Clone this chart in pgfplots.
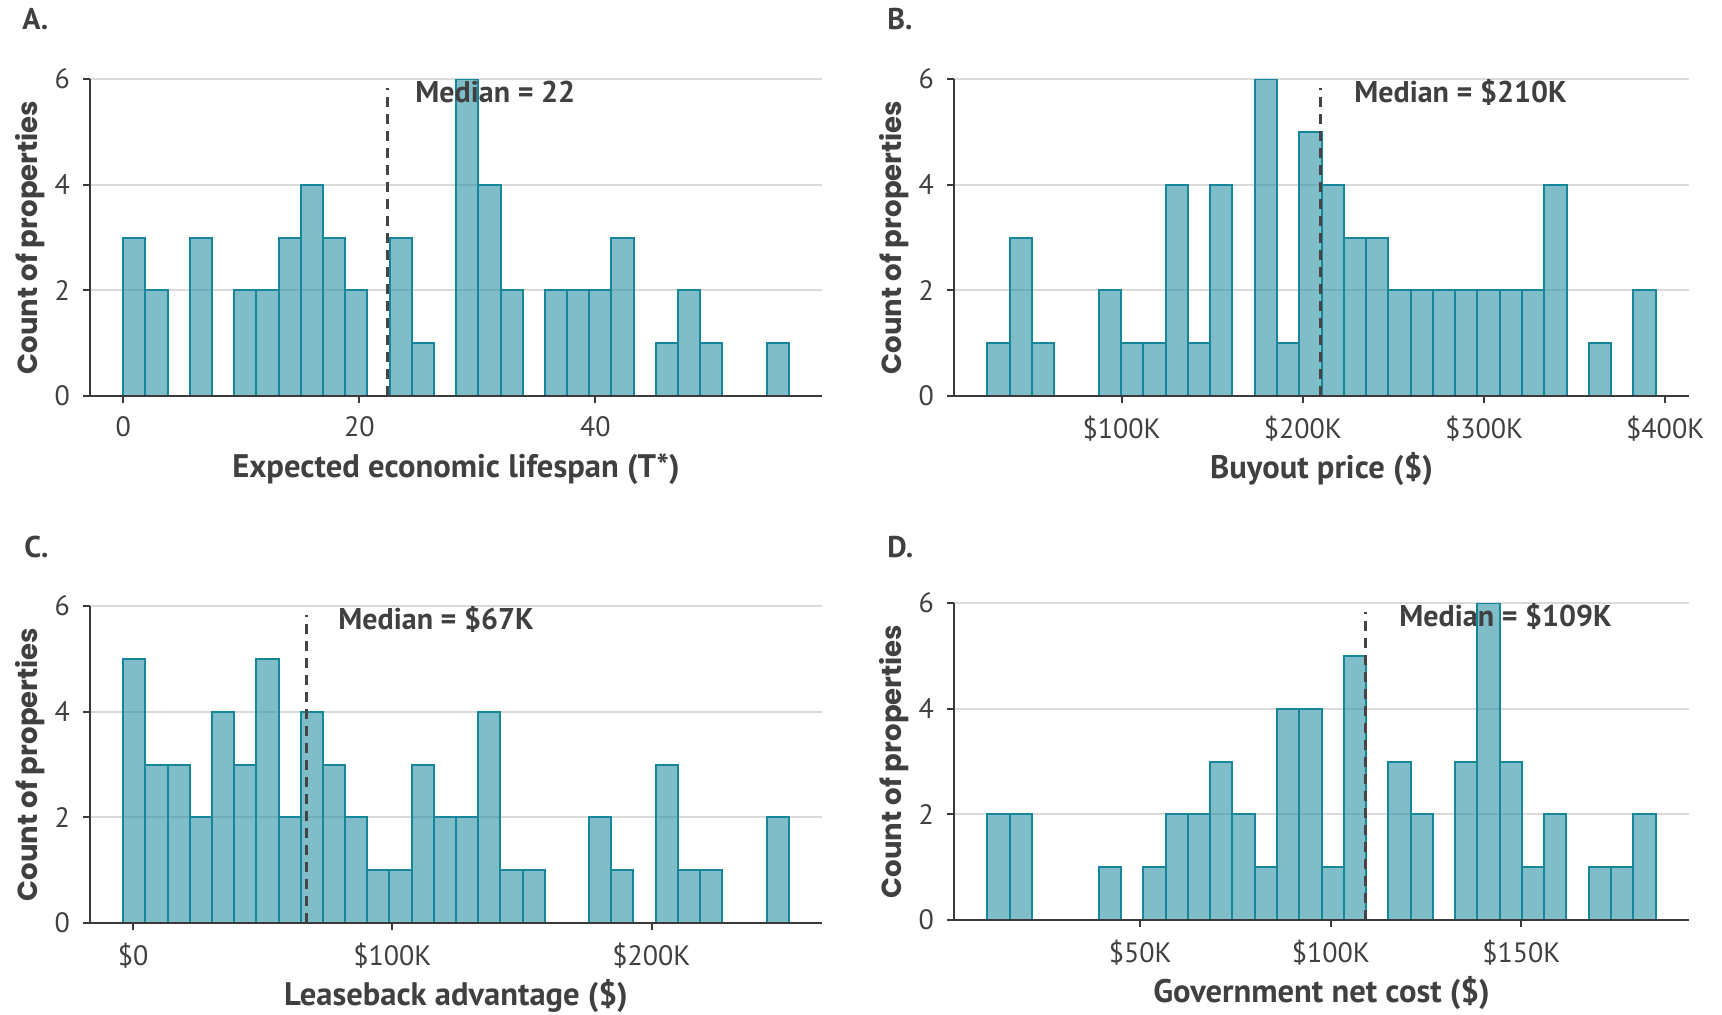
\documentclass[border=0pt]{standalone}
\usepackage{fontspec}
\setmainfont{PT Sans}
\newfontfamily\popfont{Poppins}
\usepackage{pgfplots}
\pgfplotsset{compat=1.18}

\definecolor{barfill}{HTML}{2A93A3}
\definecolor{baredge}{HTML}{16879B}
\definecolor{spine}{HTML}{3A3A3A}
\definecolor{gridgray}{HTML}{DADADA}
\definecolor{textgray}{HTML}{404040}
\definecolor{medline}{HTML}{444444}

\pgfplotsset{
  histo/.style={
    scale only axis,
    height=158.5pt,
    ymin=0, ymax=6,
    ytick={0,2,4,6},
    axis x line*=bottom, axis y line*=left,
    axis line style={draw=spine, line width=1.2pt},
    ymajorgrids,
    grid style={draw=gridgray, line width=1pt},
    tick align=outside,
    major tick length=3.5pt,
    tick style={draw=spine, line width=1pt},
    /pgf/number format/assume math mode=true,
    ticklabel style={font=\fontsize{14}{16}\selectfont, text=textgray},
    xticklabel style={yshift=-3pt},
    yticklabel style={xshift=-3pt},
    xlabel style={at={(axis description cs:0.5,0)}, anchor=center, yshift=-36.5pt,
      font=\fontsize{16.3}{18}\selectfont\bfseries, text=textgray},
    ylabel style={at={([xshift=-30pt]axis description cs:0,0.5)}, anchor=center,
      rotate=0, font=\popfont\fontsize{13.8}{15}\selectfont\bfseries, text=textgray},
    ylabel={Count of properties},
  },
  bars/.style={ybar interval, fill=barfill, fill opacity=0.6, draw=baredge, line width=1pt},
  median/.style={draw=medline, line width=1.5pt, dash pattern=on 5pt off 3.5pt},
}
\tikzset{
  medtext/.style={anchor=base west, inner sep=0pt, text=textgray, font=\fontsize{15}{17}\selectfont\bfseries},
  panel/.style={anchor=base west, inner sep=0pt, text=textgray, font=\fontsize{15}{17}\selectfont\bfseries},
}

\begin{document}
\begin{tikzpicture}
\useasboundingbox (0,0) rectangle (861pt,507pt);

% A: expected economic lifespan
\begin{axis}[histo, at={(45pt,309pt)}, anchor=south west, width=366pt,
  xmin=-2.82, xmax=59.2, xtick={0,20,40},
  xlabel={Expected economic lifespan (T*)}]
\addplot[bars] coordinates {
 (0.00,3) (1.88,2) (3.76,0) (5.64,3) (7.52,0) (9.40,2) (11.28,2) (13.16,3)
 (15.04,4) (16.92,3) (18.80,2) (20.68,0) (22.56,3) (24.44,1) (26.32,0) (28.20,6)
 (30.08,4) (31.96,2) (33.84,0) (35.72,2) (37.60,2) (39.48,2) (41.36,3) (43.24,0)
 (45.12,1) (47.00,2) (48.88,1) (50.76,0) (52.64,0) (54.52,1) (56.40,0)};
\addplot[median] coordinates {(22.4,0) (22.4,5.83)};
\draw[draw=spine, line width=1.2pt] (rel axis cs:0,0) -- (rel axis cs:1,0);
\node[medtext] at (axis cs:24.72,5.55) {Median = 22};
\end{axis}

% B: buyout price
\begin{axis}[histo, at={(477pt,309pt)}, anchor=south west, width=367.5pt,
  xmin=7.5, xmax=413.1, xtick={100,200,300,400},
  xticklabels={\$100K,\$200K,\$300K,\$400K},
  xlabel={Buyout price (\$)}]
\addplot[bars] coordinates {
 (25.95,1) (38.24,3) (50.53,1) (62.82,0) (75.11,0) (87.40,2) (99.69,1) (111.98,1)
 (124.27,4) (136.56,1) (148.85,4) (161.14,0) (173.43,6) (185.72,1) (198.01,5) (210.30,4)
 (222.59,3) (234.88,3) (247.17,2) (259.46,2) (271.75,2) (284.04,2) (296.33,2) (308.62,2)
 (320.91,2) (333.20,4) (345.49,0) (357.78,1) (370.07,0) (382.36,2) (394.65,0)};
\addplot[median] coordinates {(210,0) (210,5.83)};
\draw[draw=spine, line width=1.2pt] (rel axis cs:0,0) -- (rel axis cs:1,0);
\node[medtext] at (axis cs:228.2,5.55) {Median = \$210K};
\end{axis}

% C: leaseback advantage
\begin{axis}[histo, at={(45pt,45.5pt)}, anchor=south west, width=366pt,
  xmin=-16.64, xmax=265.79, xtick={0,100,200},
  xticklabels={\$0,\$100K,\$200K},
  xlabel={Leaseback advantage (\$)}]
\addplot[bars] coordinates {
 (-3.80,5) (4.76,3) (13.32,3) (21.87,2) (30.43,4) (38.99,3) (47.55,5) (56.11,2)
 (64.66,4) (73.22,3) (81.78,2) (90.34,1) (98.90,1) (107.45,3) (116.01,2) (124.57,2)
 (133.13,4) (141.69,1) (150.24,1) (158.80,0) (167.36,0) (175.92,2) (184.48,1) (193.03,0)
 (201.59,3) (210.15,1) (218.71,1) (227.27,0) (235.82,0) (244.38,2) (252.94,0)};
\addplot[median] coordinates {(67,0) (67,5.83)};
\draw[draw=spine, line width=1.2pt] (rel axis cs:0,0) -- (rel axis cs:1,0);
\node[medtext] at (axis cs:79.05,5.55) {Median = \$67K};
\end{axis}

% D: government net cost
\begin{axis}[histo, at={(477pt,47pt)}, anchor=south west, width=367.5pt,
  xmin=1.13, xmax=193.97, xtick={50,100,150},
  xticklabels={\$50K,\$100K,\$150K},
  xlabel={Government net cost (\$)}]
\addplot[bars] coordinates {
 (9.90,2) (15.74,2) (21.59,0) (27.43,0) (33.27,0) (39.12,1) (44.96,0) (50.80,1)
 (56.64,2) (62.49,2) (68.33,3) (74.17,2) (80.02,1) (85.86,4) (91.70,4) (97.55,1)
 (103.39,5) (109.23,0) (115.07,3) (120.92,2) (126.76,0) (132.60,3) (138.45,6) (144.29,3)
 (150.13,1) (155.98,2) (161.82,0) (167.66,1) (173.50,1) (179.35,2) (185.19,0)};
\addplot[median] coordinates {(109.1,0) (109.1,5.83)};
\draw[draw=spine, line width=1.2pt] (rel axis cs:0,0) -- (rel axis cs:1,0);
\node[medtext] at (axis cs:117.9,5.55) {Median = \$109K};
\end{axis}

\node[panel] at (11pt,492pt) {A.};
\node[panel] at (443.5pt,492pt) {B.};
\node[panel] at (12pt,228.5pt) {C.};
\node[panel] at (443.5pt,228.5pt) {D.};
\end{tikzpicture}
\end{document}
